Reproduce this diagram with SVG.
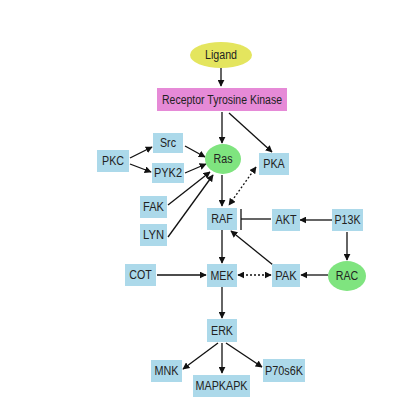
<svg xmlns="http://www.w3.org/2000/svg" width="420" height="420" viewBox="0 0 420 420">
<defs>
<marker id="ah" viewBox="0 0 10 10" refX="9" refY="5" markerWidth="7" markerHeight="7" orient="auto-start-reverse" markerUnits="userSpaceOnUse">
<path d="M0,0 L10,5 L0,10 z" fill="#111"/>
</marker>
<style>
.box{fill:#ACD9EA}
.t{font-family:"Liberation Sans",Arial,sans-serif;font-size:12.5px;fill:#222;text-anchor:middle;dominant-baseline:central}
.c{stroke:#111;stroke-width:1.3;fill:none}
.a{marker-end:url(#ah)}
.d{stroke-dasharray:2,2;marker-start:url(#ah);marker-end:url(#ah)}
</style>
</defs>
<rect width="420" height="420" fill="#fff"/>
<g id="connectors">
<line class="c a" x1="221" y1="68" x2="221" y2="86"/>
<line class="c a" x1="222" y1="112" x2="222" y2="143"/>
<line class="c a" x1="229" y1="113" x2="272" y2="152"/>
<line class="c a" x1="130" y1="158" x2="152" y2="147"/>
<line class="c a" x1="130" y1="164" x2="151" y2="172"/>
<line class="c a" x1="185" y1="146" x2="205" y2="157"/>
<line class="c a" x1="185" y1="173" x2="206" y2="164"/>
<line class="c a" x1="168" y1="205" x2="210" y2="172"/>
<line class="c a" x1="168" y1="237" x2="213" y2="175"/>
<line class="c a" x1="222" y1="175" x2="222" y2="206"/>
<line class="c d" x1="256" y1="167" x2="229" y2="205"/>
<line class="c" x1="271" y1="219" x2="241" y2="219"/>
<line class="c" x1="241" y1="209" x2="241" y2="230"/>
<line class="c a" x1="332" y1="220" x2="300" y2="220"/>
<line class="c a" x1="347" y1="232" x2="347" y2="260"/>
<line class="c a" x1="328" y1="275" x2="301" y2="275"/>
<line class="c a" x1="273" y1="265" x2="231" y2="231"/>
<line class="c a" x1="222" y1="230" x2="222" y2="263"/>
<line class="c a" x1="157" y1="275" x2="206" y2="275"/>
<line class="c d" x1="238" y1="275" x2="271" y2="275"/>
<line class="c a" x1="222" y1="287" x2="222" y2="318"/>
<line class="c a" x1="218" y1="343" x2="183" y2="369"/>
<line class="c a" x1="222" y1="343" x2="222" y2="373"/>
<line class="c a" x1="226" y1="343" x2="262" y2="367"/>
</g>
<g id="ligand"><ellipse cx="221" cy="55" rx="31" ry="13" fill="#E4E55E"/><text class="t" x="221" y="55" textLength="32" lengthAdjust="spacingAndGlyphs">Ligand</text></g>
<g id="rtk"><rect x="157" y="88" width="130" height="23" fill="#E68AD7"/><text class="t" x="222" y="100" textLength="120" lengthAdjust="spacingAndGlyphs">Receptor Tyrosine Kinase</text></g>
<g id="src"><rect class="box" x="153" y="133" width="30" height="20"/><text class="t" x="168" y="143" textLength="16" lengthAdjust="spacingAndGlyphs">Src</text></g>
<g id="pkc"><rect class="box" x="97" y="150" width="32" height="22"/><text class="t" x="113" y="161" textLength="22" lengthAdjust="spacingAndGlyphs">PKC</text></g>
<g id="pyk2"><rect class="box" x="152" y="163" width="32" height="20"/><text class="t" x="168" y="173" textLength="28" lengthAdjust="spacingAndGlyphs">PYK2</text></g>
<g id="ras"><ellipse cx="223" cy="159" rx="18" ry="15" fill="#7FE47F"/><text class="t" x="223" y="159" textLength="19" lengthAdjust="spacingAndGlyphs">Ras</text></g>
<g id="pka"><rect class="box" x="259" y="153" width="30" height="22"/><text class="t" x="274" y="164" textLength="21.5" lengthAdjust="spacingAndGlyphs">PKA</text></g>
<g id="fak"><rect class="box" x="140" y="196" width="27" height="22"/><text class="t" x="153.5" y="207" textLength="21" lengthAdjust="spacingAndGlyphs">FAK</text></g>
<g id="lyn"><rect class="box" x="140" y="224" width="27" height="22"/><text class="t" x="153.5" y="235" textLength="21" lengthAdjust="spacingAndGlyphs">LYN</text></g>
<g id="raf"><rect class="box" x="207" y="208" width="30" height="22"/><text class="t" x="222" y="219" textLength="21.5" lengthAdjust="spacingAndGlyphs">RAF</text></g>
<g id="akt"><rect class="box" x="272" y="209" width="28" height="22"/><text class="t" x="286" y="220" textLength="21" lengthAdjust="spacingAndGlyphs">AKT</text></g>
<g id="p13k"><rect class="box" x="332" y="209" width="31" height="22"/><text class="t" x="347.5" y="220" textLength="26" lengthAdjust="spacingAndGlyphs">P13K</text></g>
<g id="cot"><rect class="box" x="125" y="264" width="31" height="22"/><text class="t" x="140.5" y="275" textLength="22.5" lengthAdjust="spacingAndGlyphs">COT</text></g>
<g id="mek"><rect class="box" x="207" y="264" width="30" height="23"/><text class="t" x="222" y="275.5" textLength="23" lengthAdjust="spacingAndGlyphs">MEK</text></g>
<g id="pak"><rect class="box" x="272" y="264" width="28" height="23"/><text class="t" x="286" y="275.5" textLength="21.5" lengthAdjust="spacingAndGlyphs">PAK</text></g>
<g id="rac"><ellipse cx="347" cy="276" rx="19" ry="15" fill="#7FE47F"/><text class="t" x="347" y="276" textLength="22.5" lengthAdjust="spacingAndGlyphs">RAC</text></g>
<g id="erk"><rect class="box" x="207" y="319" width="30" height="23"/><text class="t" x="222" y="330.5" textLength="22" lengthAdjust="spacingAndGlyphs">ERK</text></g>
<g id="mnk"><rect class="box" x="151" y="360" width="31" height="22"/><text class="t" x="166.5" y="371" textLength="24" lengthAdjust="spacingAndGlyphs">MNK</text></g>
<g id="mapkapk"><rect class="box" x="193" y="375" width="57" height="22"/><text class="t" x="221.5" y="386" textLength="52" lengthAdjust="spacingAndGlyphs">MAPKAPK</text></g>
<g id="p70s6k"><rect class="box" x="263" y="359" width="42" height="23"/><text class="t" x="284" y="370.5" textLength="38" lengthAdjust="spacingAndGlyphs">P70s6K</text></g>
</svg>
